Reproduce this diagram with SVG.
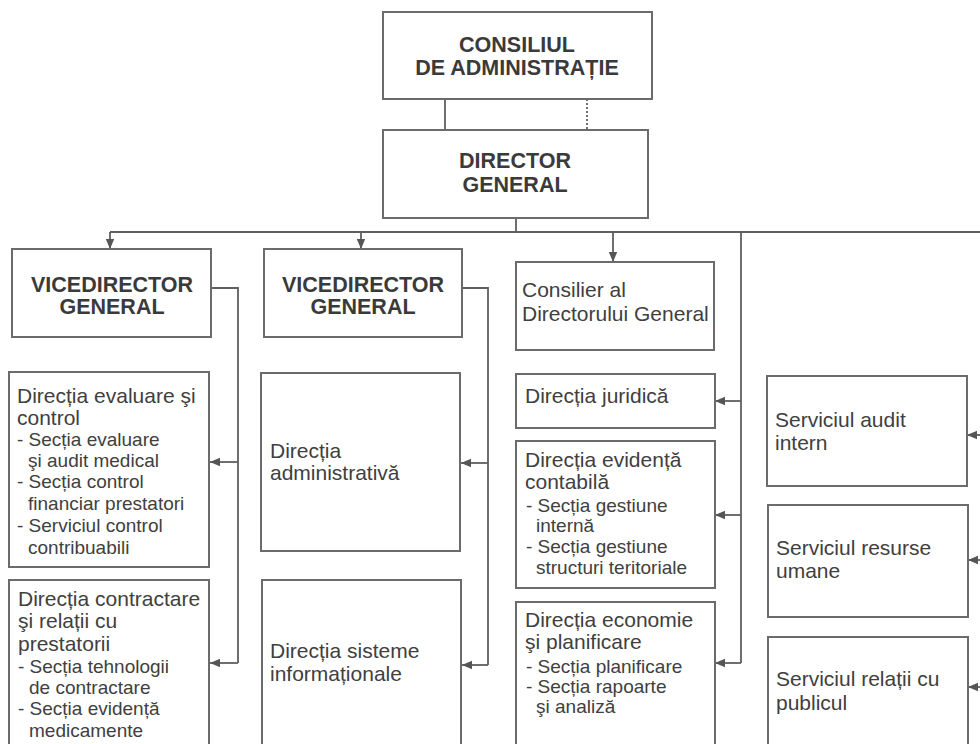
<svg xmlns="http://www.w3.org/2000/svg" width="980" height="744" viewBox="0 0 980 744">
<style>
.box{fill:#fff;stroke:#6b6b6b;stroke-width:2}
.ln{fill:none;stroke:#5f5f5f;stroke-width:1.8}
.t{font-family:"Liberation Sans",Arial,sans-serif;fill:#404040}
.b{font-weight:bold;font-size:21.5px;text-anchor:middle;fill:#3a3a3a}
.m{font-size:21px}
.s{font-size:19px}
</style>
<defs>
<marker id="ah" markerUnits="userSpaceOnUse" markerWidth="10" markerHeight="10" viewBox="0 0 10 10" refX="10" refY="5" orient="auto">
<path d="M0,0.8 L10,5 L0,9.2 Z" fill="#555"/>
</marker>
</defs>
<rect width="980" height="744" fill="#fff"/>

<g id="connectors">
<line class="ln" x1="445" y1="99" x2="445" y2="130"/>
<line class="ln" x1="587" y1="99" x2="587" y2="130" stroke-dasharray="2,2"/>
<line class="ln" x1="516" y1="218" x2="516" y2="232"/>
<line class="ln" x1="110" y1="232" x2="980" y2="232"/>
<line class="ln" x1="110" y1="232" x2="110" y2="249" marker-end="url(#ah)"/>
<line class="ln" x1="361" y1="232" x2="361" y2="249" marker-end="url(#ah)"/>
<line class="ln" x1="613" y1="232" x2="613" y2="262" marker-end="url(#ah)"/>
<path class="ln" d="M211,288 H238 V663"/>
<line class="ln" x1="238" y1="462" x2="210" y2="462" marker-end="url(#ah)"/>
<line class="ln" x1="238" y1="663" x2="210" y2="663" marker-end="url(#ah)"/>
<path class="ln" d="M462,288 H488 V665"/>
<line class="ln" x1="488" y1="463" x2="461" y2="463" marker-end="url(#ah)"/>
<line class="ln" x1="488" y1="665" x2="462" y2="665" marker-end="url(#ah)"/>
<line class="ln" x1="741" y1="232" x2="741" y2="663"/>
<line class="ln" x1="741" y1="401" x2="715" y2="401" marker-end="url(#ah)"/>
<line class="ln" x1="741" y1="515" x2="715" y2="515" marker-end="url(#ah)"/>
<line class="ln" x1="741" y1="663" x2="715" y2="663" marker-end="url(#ah)"/>
<line class="ln" x1="982" y1="435" x2="967" y2="435" marker-end="url(#ah)"/>
<line class="ln" x1="982" y1="560" x2="968" y2="560" marker-end="url(#ah)"/>
<line class="ln" x1="982" y1="687" x2="968" y2="687" marker-end="url(#ah)"/>
</g>

<g id="consiliul">
<rect class="box" x="383" y="12" width="269" height="87"/>
<text class="t b" x="517" y="52">CONSILIUL</text>
<text class="t b" x="517" y="75">DE ADMINISTRAȚIE</text>
</g>

<g id="director">
<rect class="box" x="383" y="130" width="265" height="88"/>
<text class="t b" x="515" y="168">DIRECTOR</text>
<text class="t b" x="515" y="192">GENERAL</text>
</g>

<g id="vice1">
<rect class="box" x="12" y="249" width="199" height="88"/>
<text class="t b" x="112" y="292">VICEDIRECTOR</text>
<text class="t b" x="112" y="314">GENERAL</text>
</g>

<g id="vice2">
<rect class="box" x="264" y="249" width="198" height="88"/>
<text class="t b" x="363" y="292">VICEDIRECTOR</text>
<text class="t b" x="363" y="314">GENERAL</text>
</g>

<g id="consilier">
<rect class="box" x="516" y="262" width="198" height="88"/>
<text class="t m" x="522" y="297">Consilier al</text>
<text class="t m" x="522" y="321">Directorului General</text>
</g>

<g id="dir-evaluare">
<rect class="box" x="9" y="372" width="200" height="195"/>
<text class="t m" x="17" y="403">Direcția evaluare şi</text>
<text class="t m" x="17" y="425">control</text>
<text class="t s" x="17" y="446">- Secția evaluare</text>
<text class="t s" x="28" y="467">şi audit medical</text>
<text class="t s" x="17" y="488">- Secția control</text>
<text class="t s" x="28" y="510">financiar prestatori</text>
<text class="t s" x="17" y="532">- Serviciul control</text>
<text class="t s" x="28" y="554">contribuabili</text>
</g>

<g id="dir-contractare">
<rect class="box" x="9" y="580" width="200" height="175"/>
<text class="t m" x="18" y="606">Direcția contractare</text>
<text class="t m" x="18" y="628">şi relații cu</text>
<text class="t m" x="18" y="651">prestatorii</text>
<text class="t s" x="18" y="673">- Secția tehnologii</text>
<text class="t s" x="29" y="694">de contractare</text>
<text class="t s" x="18" y="715">- Secția evidență</text>
<text class="t s" x="29" y="737">medicamente</text>
</g>

<g id="dir-administrativa">
<rect class="box" x="261" y="373" width="199" height="178"/>
<text class="t m" x="270" y="458">Direcția</text>
<text class="t m" x="270" y="480">administrativă</text>
</g>

<g id="dir-sisteme">
<rect class="box" x="262" y="580" width="199" height="175"/>
<text class="t m" x="270" y="658">Direcția sisteme</text>
<text class="t m" x="270" y="681">informaționale</text>
</g>

<g id="dir-juridica">
<rect class="box" x="516" y="374" width="199" height="54"/>
<text class="t m" x="525" y="403">Direcția juridică</text>
</g>

<g id="dir-evidenta">
<rect class="box" x="516" y="441" width="199" height="147"/>
<text class="t m" x="525" y="467">Direcția evidență</text>
<text class="t m" x="525" y="489">contabilă</text>
<text class="t s" x="526" y="512">- Secția gestiune</text>
<text class="t s" x="536" y="532">internă</text>
<text class="t s" x="526" y="553">- Secția gestiune</text>
<text class="t s" x="536" y="574">structuri teritoriale</text>
</g>

<g id="dir-economie">
<rect class="box" x="516" y="602" width="199" height="153"/>
<text class="t m" x="525" y="627">Direcția economie</text>
<text class="t m" x="525" y="649">şi planificare</text>
<text class="t s" x="526" y="673">- Secția planificare</text>
<text class="t s" x="526" y="693">- Secția rapoarte</text>
<text class="t s" x="536" y="713">şi analiză</text>
</g>

<g id="serv-audit">
<rect class="box" x="767" y="376" width="200" height="110"/>
<text class="t m" x="775" y="427">Serviciul audit</text>
<text class="t m" x="775" y="450">intern</text>
</g>

<g id="serv-resurse">
<rect class="box" x="768" y="505" width="200" height="112"/>
<text class="t m" x="776" y="555">Serviciul resurse</text>
<text class="t m" x="776" y="578">umane</text>
</g>

<g id="serv-relatii">
<rect class="box" x="768" y="637" width="200" height="118"/>
<text class="t m" x="776" y="686">Serviciul relații cu</text>
<text class="t m" x="776" y="710">publicul</text>
</g>
</svg>
